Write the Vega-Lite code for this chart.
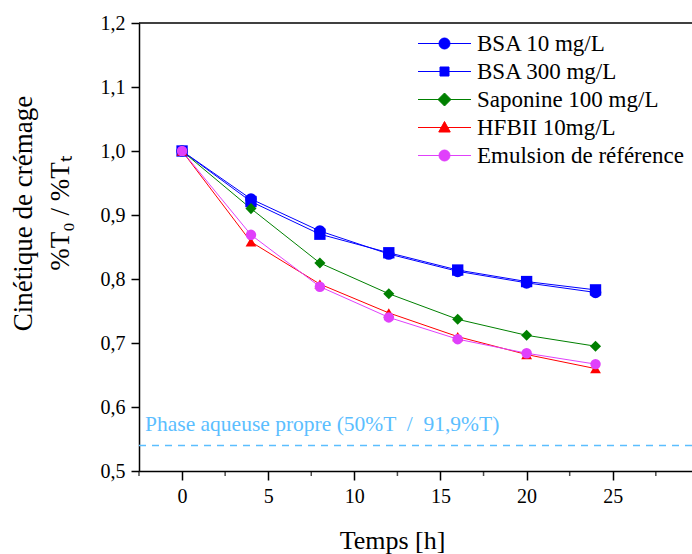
{
  "$schema": "https://vega.github.io/schema/vega-lite/v6.json",
  "width": 553,
  "height": 448,
  "autosize": {"type": "none"},
  "padding": {"left": 139, "top": 23, "right": 0, "bottom": 83},
  "background": "white",
  "config": {
    "view": {"stroke": null},
    "font": "Liberation Serif"
  },
  "resolve": {"legend": {"color": "independent"}},
  "datasets": {
    "series": [
      {"t": 0, "v": 1.0, "s": "BSA 10 mg/L"},
      {"t": 4, "v": 0.925, "s": "BSA 10 mg/L"},
      {"t": 8, "v": 0.875, "s": "BSA 10 mg/L"},
      {"t": 12, "v": 0.839, "s": "BSA 10 mg/L"},
      {"t": 16, "v": 0.812, "s": "BSA 10 mg/L"},
      {"t": 20, "v": 0.794, "s": "BSA 10 mg/L"},
      {"t": 24, "v": 0.779, "s": "BSA 10 mg/L"},
      {"t": 0, "v": 1.0, "s": "BSA 300 mg/L"},
      {"t": 4, "v": 0.921, "s": "BSA 300 mg/L"},
      {"t": 8, "v": 0.870, "s": "BSA 300 mg/L"},
      {"t": 12, "v": 0.841, "s": "BSA 300 mg/L"},
      {"t": 16, "v": 0.814, "s": "BSA 300 mg/L"},
      {"t": 20, "v": 0.796, "s": "BSA 300 mg/L"},
      {"t": 24, "v": 0.783, "s": "BSA 300 mg/L"},
      {"t": 0, "v": 1.0, "s": "Saponine 100 mg/L"},
      {"t": 4, "v": 0.910, "s": "Saponine 100 mg/L"},
      {"t": 8, "v": 0.825, "s": "Saponine 100 mg/L"},
      {"t": 12, "v": 0.777, "s": "Saponine 100 mg/L"},
      {"t": 16, "v": 0.737, "s": "Saponine 100 mg/L"},
      {"t": 20, "v": 0.712, "s": "Saponine 100 mg/L"},
      {"t": 24, "v": 0.695, "s": "Saponine 100 mg/L"},
      {"t": 0, "v": 1.0, "s": "HFBII 10mg/L"},
      {"t": 4, "v": 0.858, "s": "HFBII 10mg/L"},
      {"t": 8, "v": 0.792, "s": "HFBII 10mg/L"},
      {"t": 12, "v": 0.747, "s": "HFBII 10mg/L"},
      {"t": 16, "v": 0.710, "s": "HFBII 10mg/L"},
      {"t": 20, "v": 0.682, "s": "HFBII 10mg/L"},
      {"t": 24, "v": 0.660, "s": "HFBII 10mg/L"},
      {"t": 0, "v": 1.0, "s": "Emulsion de référence"},
      {"t": 4, "v": 0.869, "s": "Emulsion de référence"},
      {"t": 8, "v": 0.788, "s": "Emulsion de référence"},
      {"t": 12, "v": 0.740, "s": "Emulsion de référence"},
      {"t": 16, "v": 0.706, "s": "Emulsion de référence"},
      {"t": 20, "v": 0.684, "s": "Emulsion de référence"},
      {"t": 24, "v": 0.667, "s": "Emulsion de référence"}
    ],
    "baseline": [
      {"v": 0.54, "label": "Phase aqueuse propre (50%T \u00a0/\u00a0 91,9%T)"}
    ],
    "minor": [
      {"m": -2.5}, {"m": 2.5}, {"m": 7.5}, {"m": 12.5}, {"m": 17.5}, {"m": 22.5}, {"m": 27.5}
    ]
  },
  "layer": [
    {
      "data": {"name": "baseline"},
      "mark": {"type": "rule", "color": "#5BBEFF", "strokeWidth": 1.5, "strokeDash": [7, 6]},
      "encoding": {
        "y": {"field": "v", "type": "quantitative", "scale": {"domain": [0.5, 1.2], "nice": false, "zero": false}}
      }
    },
    {
      "data": {"name": "baseline"},
      "mark": {"type": "text", "color": "#5BBEFF", "fontSize": 21.5, "font": "Liberation Serif", "align": "left", "baseline": "alphabetic", "dy": -14},
      "encoding": {
        "x": {"datum": -2.15, "type": "quantitative"},
        "y": {"field": "v", "type": "quantitative"},
        "text": {"field": "label"}
      }
    },
    {
      "data": {"name": "series"},
      "mark": {"type": "line", "strokeWidth": 1},
      "encoding": {
        "x": {"field": "t", "type": "quantitative"},
        "y": {"field": "v", "type": "quantitative"},
        "color": {"field": "s", "type": "nominal", "legend": null},
        "detail": {"field": "s"}
      }
    },
    {
      "data": {"name": "series"},
      "mark": {"type": "point", "filled": true, "opacity": 1},
      "encoding": {
        "x": {
          "field": "t", "type": "quantitative",
          "scale": {"domain": [-2.5, 29.6], "nice": false, "zero": false},
          "axis": {"values": [0, 5, 10, 15, 20, 25], "grid": false, "domainColor": "black", "domainWidth": 1.5, "tickColor": "black", "tickWidth": 1.5, "tickSize": 9, "labelPadding": 6, "labelFont": "Liberation Serif", "labelFontSize": 20, "labelColor": "black", "title": "Temps [h]", "titleFont": "Liberation Serif", "titleFontSize": 26, "titleFontWeight": "normal", "titleColor": "black", "titleX": 253, "titleY": 77, "titleBaseline": "alphabetic"}
        },
        "y": {
          "field": "v", "type": "quantitative",
          "scale": {"domain": [0.5, 1.2], "nice": false, "zero": false},
          "axis": {"values": [0.5, 0.6, 0.7, 0.8, 0.9, 1.0, 1.1, 1.2], "grid": false, "domainColor": "black", "domainWidth": 1.5, "tickColor": "black", "tickWidth": 1.5, "tickSize": 8, "labelPadding": 6, "labelFont": "Liberation Serif", "labelFontSize": 20, "labelColor": "black", "labelExpr": "replace(format(datum.value, '.1f'), '.', ',')", "title": ["Cinétique de crémage", "%T₀ / %Tₜ"], "titleFont": "Liberation Serif", "titleFontSize": 27, "titleFontWeight": "normal", "titleColor": "black", "titleLineHeight": 37, "titleX": -116, "titleY": 190, "titleAngle": -90, "titleAlign": "center", "titleBaseline": "middle"}
        },
        "color": {
          "field": "s", "type": "nominal",
          "scale": {"domain": ["BSA 10 mg/L", "BSA 300 mg/L", "Saponine 100 mg/L", "HFBII 10mg/L", "Emulsion de référence"], "range": ["#0000FF", "#0000FF", "#008000", "#FF0000", "#E040FB"]},
          "legend": {
            "orient": "none", "legendX": 268, "legendY": 9, "title": null, "padding": 0,
            "labelFont": "Liberation Serif", "labelFontSize": 23, "labelColor": "black", "labelLimit": 400, "labelOffset": 21, "symbolOffset": 26, "symbolSize": 100, "symbolStrokeWidth": 1, "rowPadding": 4,
            "symbolType": {"expr": "datum.value == 'BSA 300 mg/L' ? 'M-5.3,0H5.3M-0.9,-0.9H0.9V0.9H-0.9Z' : datum.value == 'Saponine 100 mg/L' ? 'M-5.3,0H5.3M0,-1.3L1.3,0L0,1.3L-1.3,0Z' : datum.value == 'HFBII 10mg/L' ? 'M-5.3,0H5.3M0,-1.2L1.15,0.9H-1.15Z' : 'M-5.3,0H5.3M1.1,0A1.1,1.1,0,1,1,-1.1,0A1.1,1.1,0,1,1,1.1,0Z'"},
            "symbolStrokeColor": {"expr": "scale('color', datum.value)"}
          }
        },
        "shape": {
          "field": "s", "type": "nominal",
          "scale": {"domain": ["BSA 10 mg/L", "BSA 300 mg/L", "Saponine 100 mg/L", "HFBII 10mg/L", "Emulsion de référence"], "range": ["circle", "square", "diamond", "triangle-up", "circle"]},
          "legend": null
        },
        "size": {
          "field": "s", "type": "nominal",
          "scale": {"domain": ["BSA 10 mg/L", "BSA 300 mg/L", "Saponine 100 mg/L", "HFBII 10mg/L", "Emulsion de référence"], "range": [135, 110, 220, 170, 135]},
          "legend": null
        }
      }
    },
    {
      "data": {"name": "minor"},
      "mark": {"type": "tick", "color": "black", "orient": "vertical", "size": 5, "thickness": 1.5, "yOffset": 2.5},
      "encoding": {
        "x": {"field": "m", "type": "quantitative"},
        "y": {"datum": 0.5, "type": "quantitative"}
      }
    },
    {
      "data": {"values": [{}]},
      "mark": {"type": "rule", "color": "black", "strokeWidth": 1.5},
      "encoding": {"y": {"datum": 1.2, "type": "quantitative"}}
    }
  ]
}
